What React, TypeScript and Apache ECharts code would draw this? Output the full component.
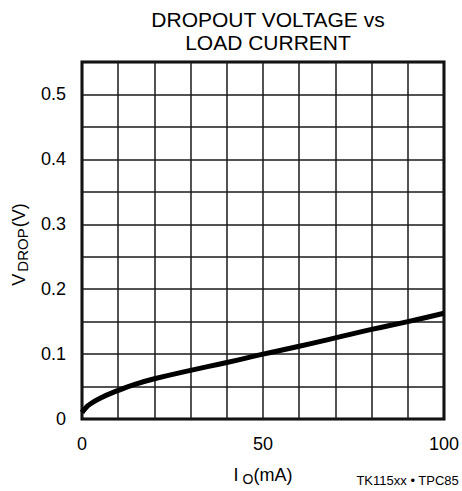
import React, { useEffect, useRef } from "react";
import * as echarts from "echarts";

const currentMA = [0, 1, 2, 5, 10, 15, 20, 30, 40, 50, 60, 70, 80, 90, 100];
const vDrop = [0.01, 0.017, 0.022, 0.032, 0.044, 0.054, 0.062, 0.075, 0.087, 0.1, 0.112, 0.125, 0.138, 0.15, 0.163];
const titleLines = ["DROPOUT VOLTAGE vs", "LOAD CURRENT"];
const footer = "TK115xx • TPC85";

export default function App() {
  const ref = useRef<HTMLDivElement>(null);
  useEffect(() => {
    const chart = echarts.init(ref.current!, null, { renderer: "svg" });
    const font = "'Liberation Sans', Arial, sans-serif";
    chart.setOption({
      animation: false,
      backgroundColor: "#fff",
      textStyle: { fontFamily: font, color: "#000" },
      title: {
        text: titleLines.join("\n"),
        left: 263,
        textAlign: "center",
        top: 3,
        textStyle: { fontFamily: font, fontSize: 21, fontWeight: "normal", color: "#000", lineHeight: 23 },
      },
      grid: {
        left: 82,
        right: 18,
        top: 62,
        bottom: 67,
        show: true,
        borderColor: "#000",
        borderWidth: 3,
        backgroundColor: "transparent",
      },
      xAxis: {
        type: "value",
        min: 0,
        max: 100,
        interval: 10,
        axisLine: { show: false },
        axisTick: { show: false },
        splitLine: { show: true, lineStyle: { color: "#1a1a1a", width: 1.5 } },
        axisLabel: {
          color: "#000",
          fontSize: 18,
          fontFamily: font,
          margin: 16,
          formatter: (v: number) => (v % 50 === 0 ? String(v) : ""),
        },
        name: "{a|I}{s|O}{a|(mA)}",
        nameLocation: "middle",
        nameGap: 45,
        nameTextStyle: {
          rich: {
            a: { fontSize: 18, fontFamily: font, color: "#000" },
            s: { fontSize: 14, fontFamily: font, color: "#000", verticalAlign: "bottom", padding: [8, 0, 0, 4] },
          },
        },
      },
      yAxis: {
        type: "value",
        min: 0,
        max: 0.55,
        interval: 0.05,
        axisLine: { show: false },
        axisTick: { show: false },
        splitLine: { show: true, lineStyle: { color: "#1a1a1a", width: 1.5 } },
        axisLabel: {
          color: "#000",
          fontSize: 18,
          fontFamily: font,
          margin: 16,
          padding: [4, 0, 0, 0],
          formatter: (v: number) => {
            const k = Math.round(v * 100);
            if (k % 10 !== 0) return "";
            return k === 0 ? "0" : (k / 100).toFixed(1);
          },
        },
        name: "{a|V}{s|DROP}{a|(V)}",
        nameLocation: "middle",
        nameGap: 52,
        nameRotate: 90,
        nameTextStyle: {
          padding: [0, 0, 0, -8],
          rich: {
            a: { fontSize: 18, fontFamily: font, color: "#000" },
            s: { fontSize: 15, fontFamily: font, color: "#000", verticalAlign: "bottom", padding: [8, 1, 0, 2] },
          },
        },
      },
      graphic: [
        {
          type: "text",
          right: 3,
          top: 474,
          style: { text: footer, fontSize: 13, fontFamily: font, fill: "#000" },
        },
      ],
      series: [
        {
          type: "line",
          data: currentMA.map((x, i) => [x, vDrop[i]]),
          smooth: true,
          showSymbol: false,
          lineStyle: { color: "#000", width: 5 },
          z: 5,
        },
      ],
    });
    return () => chart.dispose();
  }, []);
  return <div ref={ref} style={{ position: "absolute", left: 0, top: 0, width: 462, height: 491 }} />;
}
